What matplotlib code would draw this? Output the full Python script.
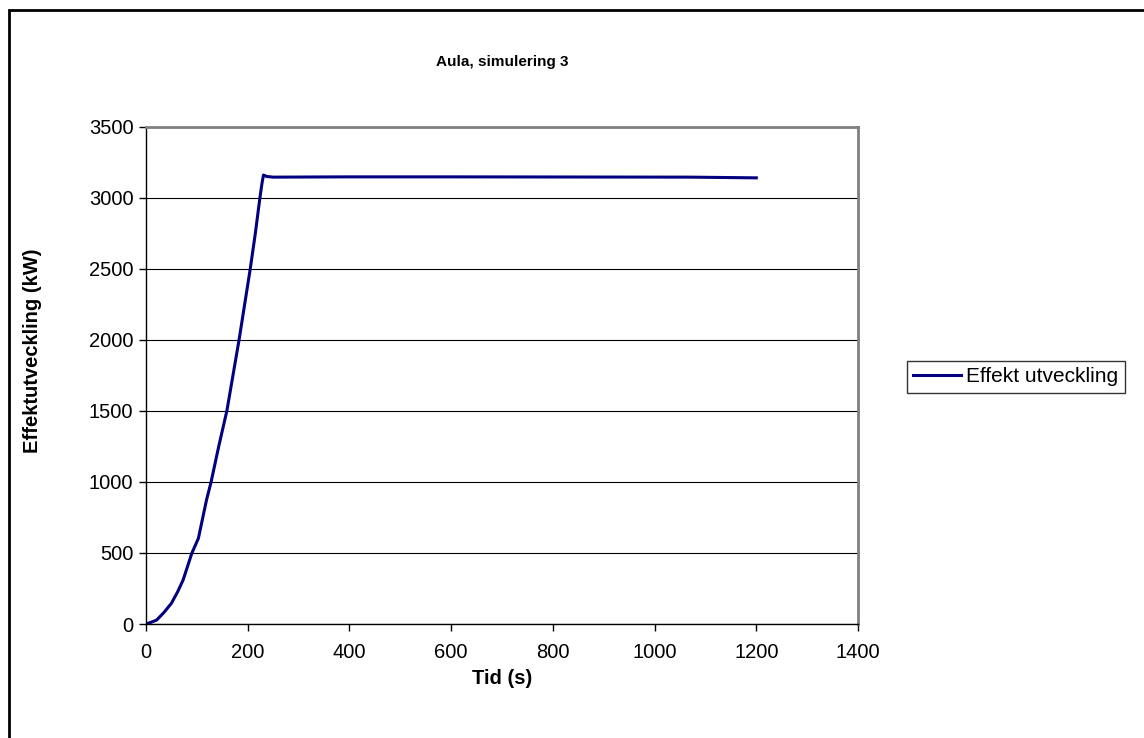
import matplotlib
matplotlib.use("Agg")
import matplotlib.pyplot as plt
from matplotlib.patches import Rectangle

plt.rcParams["font.family"] = ["Liberation Sans", "DejaVu Sans"]

# Effektutveckling
tid = [0, 10, 21, 35, 50, 62, 73, 90, 103, 119, 128, 143, 159, 171, 183,
       194, 205, 215, 224, 228, 231, 237, 250, 400, 580, 1070, 1200]
effekt = [0, 12, 28, 80, 146, 225, 310, 497, 603, 873, 1000, 1250, 1500, 1750, 2000,
          2250, 2500, 2750, 3000, 3100, 3160, 3150, 3145, 3147, 3147, 3145, 3140]

x_ticks = [0, 200, 400, 600, 800, 1000, 1200, 1400]
y_ticks = [0, 500, 1000, 1500, 2000, 2500, 3000, 3500]

W, H = 1144, 738
fig = plt.figure(figsize=(W / 100, H / 100), dpi=100)
fig.patches.append(Rectangle((9 / W, -0.1), 1.2, 1 - 10 / H + 0.1, transform=fig.transFigure,
                             fill=False, edgecolor="black", linewidth=2))

left, right, top, bottom = 146, 858, 126.7, 624
ax = fig.add_axes([left / W, 1 - bottom / H, (right - left) / W, (bottom - top) / H])
ax.plot(tid, effekt, color="#000080", linewidth=2.2, label="Effekt utveckling")

ax.set_xlim(0, 1400)
ax.set_ylim(0, 3500)
ax.set_xticks(x_ticks)
ax.set_yticks(y_ticks)
ax.tick_params(labelsize=14.5, length=5, width=1, direction="out")
ax.tick_params(axis="x", pad=9)
ax.tick_params(axis="y", pad=4)
ax.grid(axis="y", color="black", linewidth=0.8)
ax.set_axisbelow(True)
for side in ("top", "right"):
    ax.spines[side].set_color("#808080")
    ax.spines[side].set_linewidth(2)
for side in ("left", "bottom"):
    ax.spines[side].set_color("black")
    ax.spines[side].set_linewidth(1)

ax.set_title("Aula, simulering 3", fontsize=11, fontweight="bold", pad=44)
ax.set_xlabel("Tid (s)", fontsize=14.5, fontweight="bold", labelpad=5)
ax.set_ylabel("Effektutveckling (kW)", fontsize=14.5, fontweight="bold")
ax.yaxis.set_label_coords((33 - left) / (right - left), (bottom - 351) / (bottom - top))
ax.yaxis.label.set_verticalalignment("center")

leg = ax.legend(loc="center left", bbox_to_anchor=(907 / W, 1 - 377 / H),
                bbox_transform=fig.transFigure, fontsize=15, frameon=True,
                fancybox=False, borderpad=0.3, handlelength=2.3, handletextpad=0.25,
                borderaxespad=0)
leg.get_frame().set_edgecolor("black")
leg.get_frame().set_linewidth(1)

fig.savefig("out.png", dpi=100)
